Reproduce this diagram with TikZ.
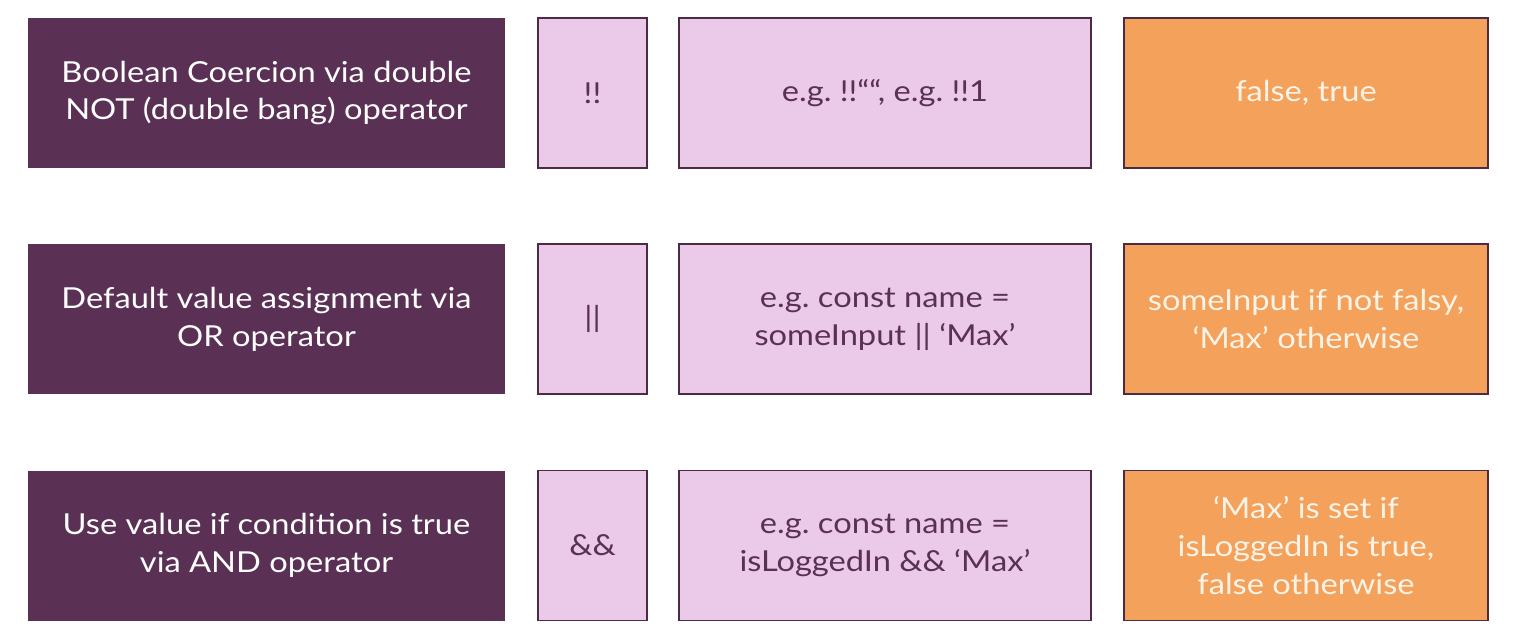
\documentclass[tikz,border=0pt]{standalone}
\usepackage{fontspec}
\setmainfont{Lato}[FakeStretch=1.13]
\frenchspacing
\definecolor{darkp}{HTML}{5A3155}
\definecolor{pinkp}{HTML}{EBC9E9}
\definecolor{orangep}{HTML}{F4A15C}
\definecolor{edgep}{HTML}{4D2B44}
\definecolor{creamt}{HTML}{FDF3E6}
\tikzset{
  base/.style={rectangle, inner sep=0pt, align=center, font=\fontsize{29}{38}\selectfont},
  titlebox/.style={base, fill=darkp, text=white, minimum width=477bp, minimum height=150bp},
  opbox/.style={base, fill=pinkp, draw=edgep, line width=1.6bp, text=darkp, minimum width=109bp, minimum height=150bp},
  exbox/.style={base, fill=pinkp, draw=edgep, line width=1.6bp, text=darkp, minimum width=412bp, minimum height=150bp},
  resbox/.style={base, fill=orangep, draw=edgep, line width=1.6bp, text=creamt, minimum width=364bp, minimum height=150bp},
}
\begin{document}
\begin{tikzpicture}[x=1bp,y=-1bp]
\useasboundingbox (0,0) rectangle (1517,641);
\fill[white] (0,0) rectangle (1517,641);
% row 1
\node[titlebox] (t1) at (266.5,93) {Boolean Coercion via double\\NOT (double bang) operator};
\node[opbox] (o1) at (592.5,93) {!!};
\node[exbox] (e1) at (885,93) {e.g. !!““, e.g. !!1};
\node[resbox] (r1) at (1306,93) {false, true};
% row 2
\node[titlebox] (t2) at (266.5,319) {Default value assignment via\\OR operator};
\node[opbox] (o2) at (592.5,319) {||};
\node[exbox] (e2) at (885,319) {e.g. const name =\\someInput || ‘Max’};
\node[resbox] (r2) at (1306,319) {someInput if not falsy,\\‘Max’ otherwise};
% row 3
\node[titlebox] (t3) at (266.5,545.5) {Use value if condition is true\\via AND operator};
\node[opbox] (o3) at (592.5,545.5) {\&\&};
\node[exbox] (e3) at (885,545.5) {e.g. const name =\\isLoggedIn \&\& ‘Max’};
\node[resbox] (r3) at (1306,545.5) {‘Max’ is set if\\isLoggedIn is true,\\false otherwise};
\end{tikzpicture}
\end{document}
